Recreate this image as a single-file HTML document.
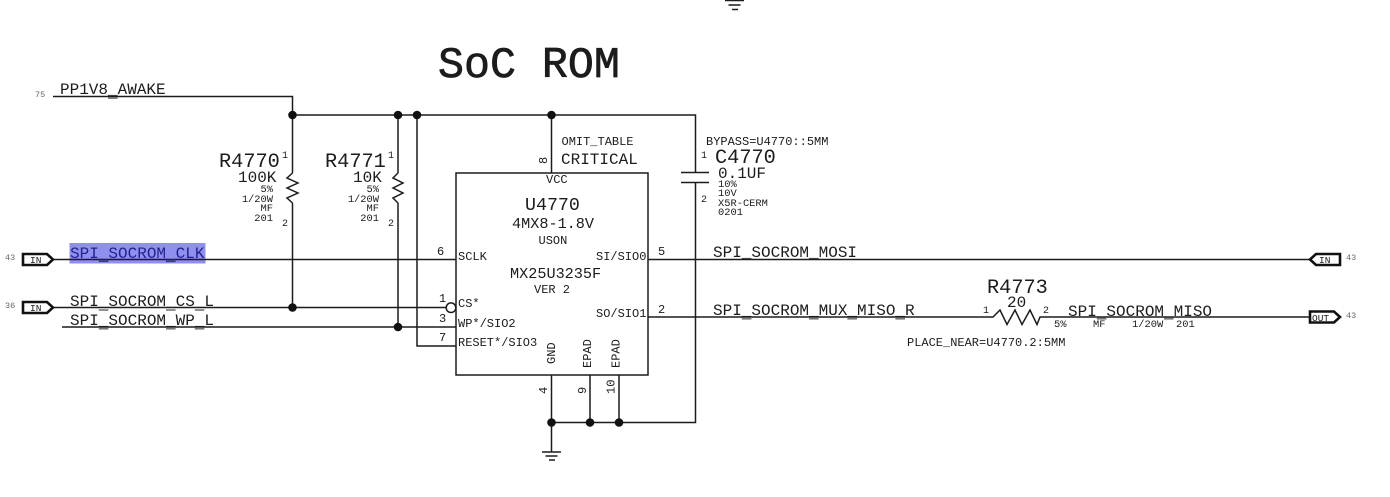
<!DOCTYPE html>
<html><head><meta charset="utf-8">
<style>
html,body{margin:0;padding:0;background:#fff;width:1390px;height:497px;overflow:hidden}
svg{display:block}
text{font-family:"Liberation Mono",monospace;fill:#1c1c1c}
.w{stroke:#1c1c1c;stroke-width:1.5;fill:none}
.t{stroke:#111;stroke-width:2.6;fill:#fff}
.s{fill:#666}
</style></head><body>
<svg width="1390" height="497" viewBox="0 0 1390 497" xmlns="http://www.w3.org/2000/svg">
<rect x="69.5" y="243" width="136" height="20.5" fill="#8f8ff0"/>

<g fill="#777">
<rect x="108" y="97.300" width="9.600" height="1.600"/>
<rect x="98.800" y="309.200" width="9.600" height="1.600"/><rect x="166" y="309.200" width="9.600" height="1.600"/><rect x="194.800" y="309.200" width="9.600" height="1.600"/>
<rect x="98.800" y="328" width="9.600" height="1.600"/><rect x="166" y="328" width="9.600" height="1.600"/><rect x="194.800" y="328" width="9.600" height="1.600"/>
<rect x="741.800" y="318" width="9.600" height="1.600"/><rect x="809" y="318" width="9.600" height="1.600"/><rect x="847.400" y="318" width="9.600" height="1.600"/><rect x="895.400" y="318" width="9.600" height="1.600"/>
<rect x="1096.800" y="318" width="9.600" height="1.600"/><rect x="1164" y="318" width="9.600" height="1.600"/>
</g>
<g fill="#3a3a8a">
<rect x="98.800" y="260.500" width="9.600" height="1.600"/><rect x="166" y="260.500" width="9.600" height="1.600"/>
</g>

<g class="w">
<path d="M53 96.500H292.500V173M292.500 203V307.500"/>
<path d="M292.500 173L287 178L298 183L287 188L298 193L287 198L292.500 203"/>
<path d="M292.500 115H695.500V172.500M695.500 182.500V422.500H551.500"/>
<path d="M398 115V173M398 203V327"/>
<path d="M398 173L393 178L403 183L393 188L403 193L393 198L398 203"/>
<path d="M417 115V346H456"/>
<path d="M551.500 115V173M551.500 375V452M590 375V422.500M619 375V422.500"/>
<path d="M681 172.500H709M681 182.500H709"/>
<rect x="456" y="173" width="192" height="202"/>
<path d="M53 259.500H456M648 259.500H1310"/>
<path d="M53 307.500H446M62 327H456"/>
<circle cx="451" cy="307.700" r="4.800"/>
<path d="M648 317H993L1000 310L1007 324.500L1015 310L1022 324.500L1030 310L1037 324.500L1040 317H1310"/>
<path d="M542 452H561M545.500 456H557.500M549 460H555"/>
<path d="M725 0.500H744M728.500 5H740.500M732 9.500H738"/>
</g>

<g fill="#111">
<circle cx="292.500" cy="115" r="4.300"/><circle cx="398" cy="115" r="4.300"/><circle cx="417" cy="115" r="4.300"/><circle cx="551.500" cy="115" r="4.300"/>
<circle cx="292.500" cy="307.500" r="4.300"/><circle cx="398" cy="327" r="4.300"/>
<circle cx="551.500" cy="422.500" r="4.300"/><circle cx="590" cy="422.500" r="4.300"/><circle cx="619" cy="422.500" r="4.300"/>
</g>

<g class="t">
<path d="M23 254H47L53 259.500L47 265H23Z"/>
<path d="M23 302H47L53 307.500L47 313H23Z"/>
<path d="M1340 254H1316L1310 259.500L1316 265H1340Z"/>
<path d="M1310 311.500H1334L1340 317L1334 322.500H1310Z"/>
</g>
<g font-size="9.500">
<text x="30" y="263">IN</text><text x="30" y="311">IN</text>
<text x="1319" y="263">IN</text><text x="1312" y="321">OUT</text>
</g>
<g font-size="8.500" class="s">
<text x="35" y="97" class="s">75</text><text x="5" y="260" class="s">43</text><text x="5" y="308" class="s">36</text>
<text x="1346" y="260" class="s">43</text><text x="1346" y="318" class="s">43</text>
</g>

<text x="438" y="77" font-size="43.300" style="stroke:#1c1c1c;stroke-width:.7">SoC ROM</text>

<g font-size="16">
<text x="60" y="94">PP1V8_AWAKE</text>
<text x="70" y="258" style="fill:#22228a">SPI_SOCROM_CLK</text>
<text x="70" y="306">SPI_SOCROM_CS_L</text>
<text x="70" y="325">SPI_SOCROM_WP_L</text>
<text x="238" y="182">100K</text>
<text x="353" y="182">10K</text>
<text x="561" y="164">CRITICAL</text>
<text x="718" y="178">0.1UF</text>
<text x="713" y="257">SPI_SOCROM_MOSI</text>
<text x="713" y="315">SPI_SOCROM_MUX_MISO_R</text>
<text x="1068" y="316">SPI_SOCROM_MISO</text>
<text x="1007" y="307">20</text>
</g>

<g font-size="20.300">
<text x="219" y="167">R4770</text>
<text x="325" y="167">R4771</text>
<text x="715" y="163">C4770</text>
<text x="987" y="293">R4773</text>
</g>

<g font-size="10.400" text-anchor="end">
<text x="273" y="192">5%</text><text x="273" y="202">1/20W</text><text x="273" y="211">MF</text><text x="273" y="221">201</text>
<text x="379" y="192">5%</text><text x="379" y="202">1/20W</text><text x="379" y="211">MF</text><text x="379" y="221">201</text>
</g>
<g font-size="10.400">
<text x="718" y="187">10%</text><text x="718" y="196">10V</text><text x="718" y="206">X5R-CERM</text><text x="718" y="215">0201</text>
<text x="1054" y="327">5%</text><text x="1093" y="327">MF</text><text x="1132" y="327">1/20W</text><text x="1176" y="327">201</text>
</g>

<g font-size="10">
<text x="282" y="158">1</text><text x="282" y="226">2</text>
<text x="388" y="158">1</text><text x="388" y="226">2</text>
<text x="701" y="158">1</text><text x="701" y="202">2</text>
<text x="983" y="313">1</text><text x="1043" y="313">2</text>
</g>

<g font-size="12">
<text x="561.500" y="145">OMIT_TABLE</text>
<text x="706" y="145">BYPASS=U4770::5MM</text>
<text x="907" y="346">PLACE_NEAR=U4770.2:5MM</text>
<text x="546" y="183">VCC</text>
<text x="538.500" y="244">USON</text>
<text x="458" y="260">SCLK</text>
<text x="596" y="260">SI/SIO0</text>
<text x="534" y="293">VER 2</text>
<text x="458" y="307">CS*</text>
<text x="596" y="317">SO/SIO1</text>
<text x="458" y="327">WP*/SIO2</text>
<text x="458" y="346">RESET*/SIO3</text>
<text x="437" y="255">6</text><text x="439" y="302">1</text><text x="439" y="322">3</text><text x="439" y="341">7</text>
<text x="658" y="255">5</text><text x="658" y="313">2</text>
<text transform="translate(555 364) rotate(-90)">GND</text>
<text transform="translate(591 368) rotate(-90)">EPAD</text>
<text transform="translate(619.500 368) rotate(-90)">EPAD</text>
<text transform="translate(547 164) rotate(-90)">8</text>
<text transform="translate(547 394) rotate(-90)">4</text>
<text transform="translate(586 394) rotate(-90)">9</text>
<text transform="translate(614.500 394) rotate(-90)">10</text>
</g>

<text x="525" y="210" font-size="18.300">U4770</text>
<text x="512" y="228" font-size="15.200">4MX8-1.8V</text>
<text x="510" y="278" font-size="15.200">MX25U3235F</text>
</svg>
</body></html>
